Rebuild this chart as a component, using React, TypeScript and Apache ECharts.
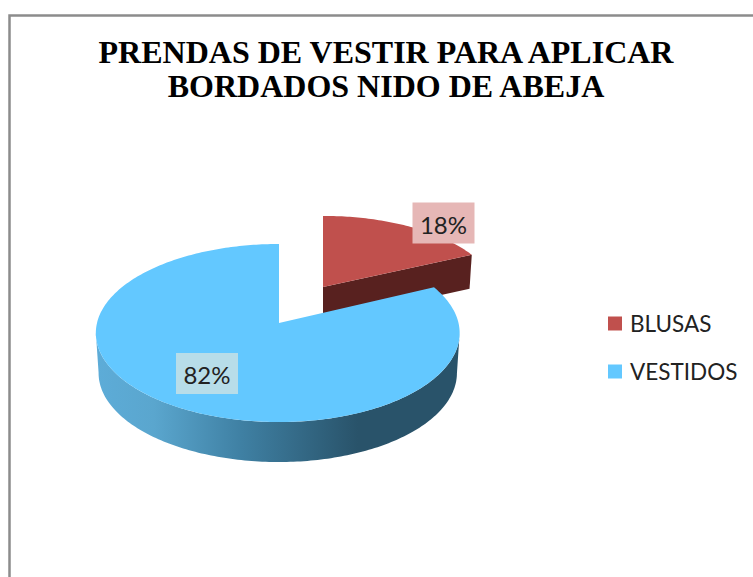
import React, { useEffect, useRef } from "react";
import * as echarts from "echarts";

const titleText = "PRENDAS DE VESTIR PARA APLICAR\nBORDADOS NIDO DE ABEJA";
const categories = ["BLUSAS", "VESTIDOS"];
const values = [18, 82];
const topColors = ["#C0504D", "#63C8FF"];
const labelFills = ["#E6B7B6", "#B7DDE9"];
const labelCenters = [[443.5, 223], [207, 373.5]];

// Perspective of the tilted pie
const PERSPECTIVE = 0.1124;
const RX = 180.4;
const RY = 87.9;
const placements = [
  { ox: 323, oy: 287, sx: 0.955, sy: 0.9, depth: 34, sl: 1 },
  { ox: 279, oy: 323, sx: 0.995, sy: 1, depth: 40, sl: 1.014 },
];

function project(deg: number, p: { ox: number; oy: number; sx: number; sy: number; sl: number }) {
  const r = (deg * Math.PI) / 180;
  const d = 1 + PERSPECTIVE * Math.cos(r);
  const s = Math.sin(r);
  return [p.ox + (p.sx * RX * s * (s < 0 ? p.sl : 1)) / d, p.oy - (p.sy * RY * Math.cos(r)) / d];
}

function arc(from: number, to: number, p: any) {
  const n = Math.max(2, Math.ceil(Math.abs(to - from)));
  const pts: number[][] = [];
  for (let i = 0; i <= n; i++) pts.push(project(from + ((to - from) * i) / n, p));
  return pts;
}

const total = values.reduce((a, b) => a + b, 0);

function sliceRender(index: number) {
  return () => {
    const start = (values.slice(0, index).reduce((a, b) => a + b, 0) / total) * 360;
    const end = start + (values[index] / total) * 360;
    const p = placements[index];
    const rim = arc(start, end, p);
    const low = { ...p, oy: p.oy + p.depth, sx: p.sx * 0.985 };
    const top = { type: "polygon", shape: { points: [[p.ox, p.oy], ...rim] }, style: { fill: topColors[index] } };
    let wall: any;
    if (index === 0) {
      const e = project(end, p);
      const eLow = project(end, low);
      wall = {
        type: "polygon",
        shape: { points: [[p.ox, p.oy], e, eLow, [p.ox, p.oy + p.depth]] },
        style: { fill: "#58211F" },
      };
    } else {
      let right = start;
      let left = start;
      for (let a = start; a <= end; a += 1) {
        if (project(a, p)[0] > project(right, p)[0]) right = a;
        if (project(a, p)[0] < project(left, p)[0]) left = a;
      }
      const upper = arc(right, left, p);
      let rightL = start;
      let leftL = start;
      for (let a = start; a <= end; a += 1) {
        if (project(a, low)[0] > project(rightL, low)[0]) rightL = a;
        if (project(a, low)[0] < project(leftL, low)[0]) leftL = a;
      }
      const lower = arc(leftL, rightL, low);
      wall = {
        type: "polygon",
        shape: { points: [...upper, ...lower] },
        style: {
          fill: new echarts.graphic.LinearGradient(0, 0, 1, 0, [
            { offset: 0, color: "#5DACD8" },
            { offset: 0.16, color: "#5AA6CE" },
            { offset: 0.4, color: "#3F80A3" },
            { offset: 0.72, color: "#29536A" },
            { offset: 1, color: "#29536A" },
          ]),
        },
      };
    }
    const [lx, ly] = labelCenters[index];
    return {
      type: "group",
      children: [
        wall,
        top,
        { type: "rect", shape: { x: lx - 31, y: ly - 20.5, width: 62, height: 41 }, style: { fill: labelFills[index] } },
        {
          type: "text",
          style: {
            text: `${Math.round((values[index] / total) * 100)}%`,
            x: lx,
            y: ly + 1,
            align: "center",
            verticalAlign: "middle",
            fill: "#222222",
            fontFamily: "Lato",
            fontSize: 24,
          },
        },
      ],
    };
  };
}

export default function App() {
  const ref = useRef<HTMLDivElement>(null);
  useEffect(() => {
    const chart = echarts.init(ref.current!, null, { renderer: "svg" });
    chart.setOption({
      animation: false,
      backgroundColor: "#FFFFFF",
      title: {
        text: titleText,
        left: 381,
        top: 30,
        textAlign: "center",
        textStyle: {
          fontFamily: "Liberation Serif",
          fontWeight: "bold",
          fontSize: 32,
          lineHeight: 34,
          color: "#000000",
        },
      },
      legend: {
        orient: "vertical",
        left: 603,
        top: 307,
        itemWidth: 14,
        itemHeight: 14,
        itemGap: 25,
        icon: "rect",
        data: categories,
        selectedMode: false,
        textStyle: { fontFamily: "Lato", fontSize: 22.5, color: "#222222", padding: [0, 0, 0, 3] },
      },
      graphic: [
        {
          type: "polyline",
          shape: { points: [[9.5, 577], [9.5, 15.5], [753, 15.5]] },
          style: { stroke: "#8C8C8C", lineWidth: 2.5, fill: "none" },
          silent: true,
        },
      ],
      series: categories.map((name, i) => ({
        type: "custom",
        name,
        coordinateSystem: "none",
        itemStyle: { color: topColors[i] },
        renderItem: sliceRender(i),
        data: [values[i]],
      })),
    });
    return () => chart.dispose();
  }, []);
  return <div ref={ref} style={{ position: "fixed", left: 0, top: 0, width: 753, height: 577 }} />;
}
